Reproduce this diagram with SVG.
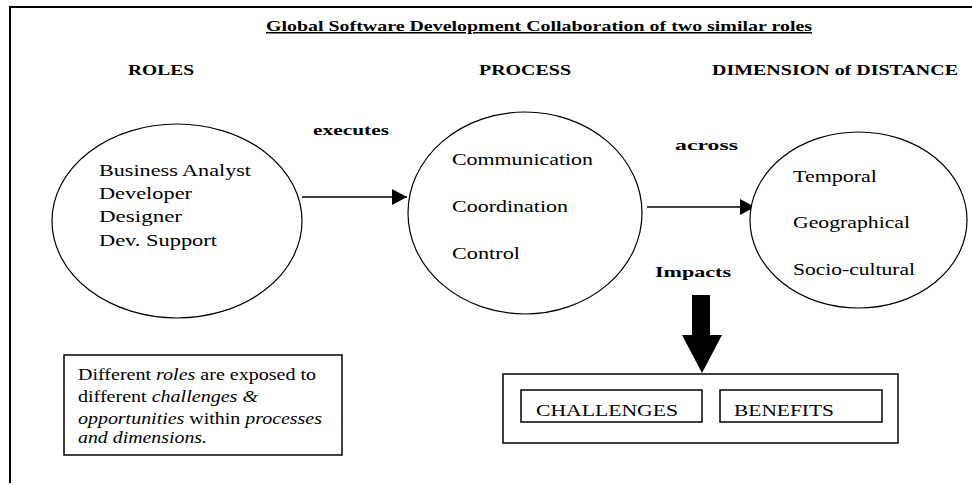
<svg xmlns="http://www.w3.org/2000/svg" width="972" height="485" viewBox="0 0 972 485" font-family="Liberation Serif, Times New Roman, Times, DejaVu Serif, serif">
<style>
  .frame { fill: none; stroke: #000; stroke-width: 2; }
  .ell { fill: #fff; stroke: #000; stroke-width: 1.2; }
  .box { fill: #fff; stroke: #000; stroke-width: 1.5; }
  text { font-family: "Liberation Serif", "Times New Roman", Times, "DejaVu Serif", serif; fill: #000; }
  .t { font-size: 17px; }
  .b { font-size: 15px; font-weight: bold; }
  .n { font-size: 16px; }
  .i { font-style: italic; }
  .line { fill: none; stroke: #000; stroke-width: 1.5; }
</style>
<defs>
  <marker id="ah" viewBox="0 0 15 16" refX="15" refY="8" markerWidth="15" markerHeight="16" markerUnits="userSpaceOnUse" orient="auto">
    <path d="M0,0 L15,8 L0,16 Z" fill="#000"/>
  </marker>
</defs>
<rect width="972" height="485" fill="#fff"/>
<path class="frame" d="M10,483 L10,7 L972,7"/>

<g id="title">
  <text class="b" x="266" y="31" font-size="13" textLength="546" lengthAdjust="spacingAndGlyphs" text-decoration="underline">Global Software Development Collaboration of two similar roles</text>
</g>

<g id="headers">
  <text class="b" x="128" y="75" textLength="66" lengthAdjust="spacingAndGlyphs">ROLES</text>
  <text class="b" x="479" y="75" textLength="92" lengthAdjust="spacingAndGlyphs">PROCESS</text>
  <text class="b" x="712" y="75" textLength="246" lengthAdjust="spacingAndGlyphs">DIMENSION of DISTANCE</text>
</g>

<g id="connectors">
  <line class="line" x1="302" y1="197" x2="407" y2="197" marker-end="url(#ah)"/>
  <line class="line" x1="647" y1="207" x2="755" y2="207" marker-end="url(#ah)"/>
  <polygon points="692,295 710,295 710,335 722,335 702,373 682,335 692,335" fill="#000"/>
  <text class="b" x="313" y="135" textLength="76" lengthAdjust="spacingAndGlyphs">executes</text>
  <text class="b" x="675" y="150" textLength="63" lengthAdjust="spacingAndGlyphs">across</text>
  <text class="b" x="655" y="277" textLength="76" lengthAdjust="spacingAndGlyphs">Impacts</text>
</g>

<g id="roles">
  <ellipse class="ell" cx="177" cy="221" rx="125" ry="97"/>
  <text class="t" x="99" y="176" textLength="152" lengthAdjust="spacingAndGlyphs">Business Analyst</text>
  <text class="t" x="99" y="199" textLength="93" lengthAdjust="spacingAndGlyphs">Developer</text>
  <text class="t" x="99" y="222" textLength="83" lengthAdjust="spacingAndGlyphs">Designer</text>
  <text class="t" x="99" y="246" textLength="118" lengthAdjust="spacingAndGlyphs">Dev. Support</text>
</g>

<g id="process">
  <ellipse class="ell" cx="525" cy="213" rx="117" ry="101"/>
  <text class="t" x="452" y="165" textLength="141" lengthAdjust="spacingAndGlyphs">Communication</text>
  <text class="t" x="452" y="212" textLength="116" lengthAdjust="spacingAndGlyphs">Coordination</text>
  <text class="t" x="452" y="259" textLength="68" lengthAdjust="spacingAndGlyphs">Control</text>
</g>

<g id="distance">
  <ellipse class="ell" cx="858.5" cy="220" rx="108.5" ry="88"/>
  <text class="t" x="793" y="182" textLength="84" lengthAdjust="spacingAndGlyphs">Temporal</text>
  <text class="t" x="793" y="228" textLength="117" lengthAdjust="spacingAndGlyphs">Geographical</text>
  <text class="t" x="793" y="275" textLength="122" lengthAdjust="spacingAndGlyphs">Socio-cultural</text>
</g>

<g id="impacts-box">
  <rect class="box" x="503" y="374" width="395" height="69"/>
  <g id="challenges">
    <rect class="box" x="521" y="390" width="181" height="32"/>
    <text class="t" x="536" y="416" textLength="142" lengthAdjust="spacingAndGlyphs">CHALLENGES</text>
  </g>
  <g id="benefits">
    <rect class="box" x="720" y="390" width="162" height="32"/>
    <text class="t" x="734" y="416" textLength="100" lengthAdjust="spacingAndGlyphs">BENEFITS</text>
  </g>
</g>

<g id="note">
  <rect class="box" x="64" y="355" width="278" height="100"/>
  <text class="n" x="78" y="380" textLength="238" lengthAdjust="spacingAndGlyphs">Different <tspan class="i">roles</tspan> are exposed to</text>
  <text class="n" x="78" y="402" textLength="180" lengthAdjust="spacingAndGlyphs">different <tspan class="i">challenges &amp;</tspan></text>
  <text class="n" x="78" y="424" textLength="244" lengthAdjust="spacingAndGlyphs"><tspan class="i">opportunities</tspan> within <tspan class="i">processes</tspan></text>
  <text class="n i" x="78" y="443" textLength="129" lengthAdjust="spacingAndGlyphs">and dimensions.</text>
</g>
</svg>
